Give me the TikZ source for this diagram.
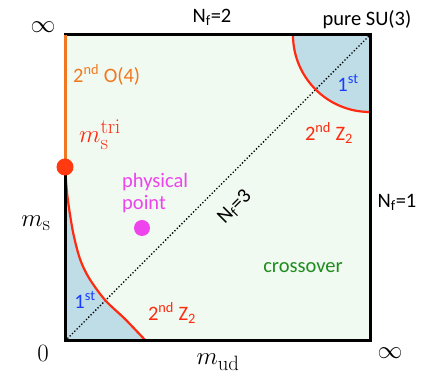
\documentclass[tikz,border=0pt]{standalone}
\usepackage[no-math]{fontspec}
\setmainfont{Carlito}
\definecolor{bggreen}{HTML}{F0FAF0}
\definecolor{regblue}{HTML}{BEDDE7}
\definecolor{lineorange}{HTML}{F07820}
\definecolor{linered}{HTML}{FF2A10}
\definecolor{dotred}{HTML}{FF3A10}
\definecolor{magent}{HTML}{EE44EE}
\definecolor{txtblue}{HTML}{1A3CFF}
\definecolor{txtgreen}{HTML}{1E8C1E}
\newcommand{\lbsize}{\fontsize{20.5}{22}\selectfont}
\newcommand{\mtsize}{\fontsize{32}{34}\selectfont}
\newcommand{\mtsmall}{\fontsize{29}{31}\selectfont}
\tikzset{
  lbl/.style={font=\lbsize, inner sep=0pt},
  mth/.style={font=\mtsize, inner sep=0pt},
  mths/.style={font=\mtsmall, inner sep=0pt},
  edge/.style={line width=3pt},
  phase/.style={linered, line width=2.2pt},
}
\begin{document}
\begin{tikzpicture}[x=1pt,y=1pt]
\useasboundingbox (0,0) rectangle (421,377);
% corners
\coordinate (BL) at (65,36);
\coordinate (TR) at (370,342);
\coordinate (TL) at (65,342);
\coordinate (BR) at (370,36);
\coordinate (tri) at (65,210);
% background
\fill[bggreen] (BL) rectangle (TR);
% blue regions
\fill[regblue] (tri) plot[smooth] coordinates {(65,210) (67.5,180) (73,145) (80,118) (89,99) (105,77) (125,58) (146,36)} -- (BL) -- cycle;
\fill[regblue] (293,342) arc[start angle=180, end angle=270, radius=77] -- (TR) -- cycle;
% diagonal
\draw[line width=1.3pt, dotted] (BL) -- (TR);
% phase boundaries
\draw[phase] plot[smooth] coordinates {(65,210) (67.5,180) (73,145) (80,118) (89,99) (105,77) (125,58) (146,36)};
\draw[phase] (293,342) arc[start angle=180, end angle=270, radius=77];
% frame
\draw[edge, line cap=rect] (TL) -- (TR) -- (BR) -- (BL) -- (tri);
\draw[edge, lineorange] (tri) -- (TL);
% dots
\fill[dotred] (tri) circle (8.5);
\fill[magent] (142,149) circle (8);
% labels
\node[mths] (inf1) at (43,350) {$\infty$};
\node[mths] (zero) at (43,24) {$0$};
\node[mths] (inf2) at (390,24) {$\infty$};
\node[mth, anchor=base] (ms) at (36,150) {$m_{\mathrm{s}}$};
\node[mth, anchor=base] (mud) at (218,12) {$m_{\mathrm{ud}}$};
\node[mth, text=linered, anchor=base west] (mstri) at (79,234) {$m_{\mathrm{s}}^{\mathrm{tri}}$};
\node[lbl] (nf2) at (212,360) {N\textsubscript{f}=2};
\node[lbl] (nf1) at (397,175) {N\textsubscript{f}=1};
\node[lbl] (su3) at (367,357) {pure SU(3)};
\node[lbl, text=lineorange, anchor=west] (o4) at (73,302) {2\textsuperscript{nd} O(4)};
\node[lbl, text=magent, align=left, anchor=north west] (phys) at (122,204) {physical\\point};
\node[lbl, text=txtgreen] (cross) at (303,109) {crossover};
\node[lbl, rotate=45] (nf3) at (235,170) {N\textsubscript{f}=3};
\node[lbl, text=txtblue] (first1) at (348,294) {1\textsuperscript{st}};
\node[lbl, text=linered] (z2a) at (329,244) {2\textsuperscript{nd} Z\textsubscript{2}};
\node[lbl, text=txtblue] (first2) at (85,77) {1\textsuperscript{st}};
\node[lbl, text=linered] (z2b) at (172,64) {2\textsuperscript{nd} Z\textsubscript{2}};
\end{tikzpicture}
\end{document}
